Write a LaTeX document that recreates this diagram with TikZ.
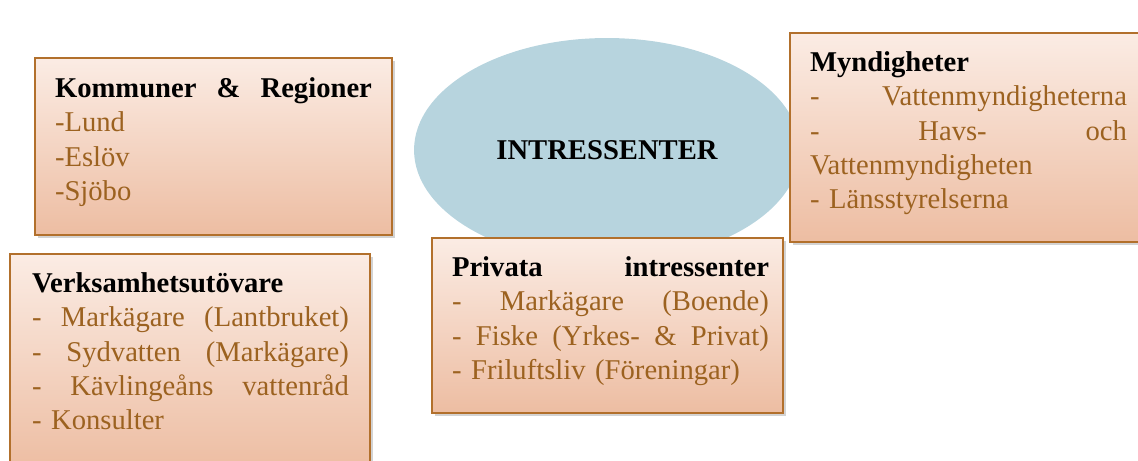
\documentclass[tikz,border=0pt]{standalone}
\usepackage{fontspec}
\setmainfont{Liberation Serif}
\usetikzlibrary{shapes.geometric,shadows,fit}
\definecolor{boxline}{RGB}{178,112,44}
\definecolor{boxtop}{RGB}{251,236,228}
\definecolor{boxbottom}{RGB}{237,189,162}
\definecolor{itembrown}{RGB}{156,98,32}
\definecolor{hubblue}{RGB}{183,212,222}
\newlength{\listwidth}
\setlength{\listwidth}{6.34cm}
\newcommand{\jline}[1]{\leavevmode\hbox to \listwidth{#1}}
\newcommand{\grouphead}[1]{{\color{black}\bfseries #1}}

\begin{document}
\begin{tikzpicture}[x=0.02cm, y=-0.02cm,
                    font=\fontsize{16.3}{19.6}\selectfont,
                    line width=0.9pt]
    \tikzstyle{hub}=[ellipse, fill=hubblue, minimum width=7.72cm, minimum height=4.48cm, font=\fontsize{16.3}{19.6}\selectfont\bfseries]
    \tikzstyle{group}=[rectangle, draw=boxline, top color=boxtop, bottom color=boxbottom, inner sep=0pt, drop shadow={shadow xshift=1.5pt, shadow yshift=-1.5pt, opacity=0.35}]
    \tikzstyle{members}=[text width=\listwidth, align=left, inner sep=0pt, text=itembrown, anchor=base west]

    \useasboundingbox (0,0) rectangle (1138,460);

    \node[hub] (hub) at (607,150) {INTRESSENTER};

    \node[group, fit={(35,58) (392,235)}] (kommuner) {};
    \node[group, fit={(790,33) (1150,242)}] (myndigheter) {};
    \node[group, fit={(10,254) (370,470)}] (verksamhet) {};
    \node[group, fit={(432,238) (783,413)}] (privata) {};

    \node[members] (kommunerlist) at ([shift={(20,40)}]kommuner.north west)
        {\jline{\grouphead{Kommuner\hfill\&\hfill Regioner}}\\
         -Lund\\
         -Eslöv\\
         -Sjöbo};
    \node[members] (myndigheterlist) at ([shift={(20,39)}]myndigheter.north west)
        {\grouphead{Myndigheter}\\
         \jline{-\hfill Vattenmyndigheterna}\\
         \jline{-\hfill Havs-\hfill och}\\
         Vattenmyndigheten\\
         - Länsstyrelserna};
    \node[members] (verksamhetlist) at ([shift={(22,39)}]verksamhet.north west)
        {\grouphead{Verksamhetsutövare}\\
         \jline{-\hfill Markägare\hfill(Lantbruket)}\\
         \jline{-\hfill Sydvatten\hfill(Markägare)}\\
         \jline{-\hfill Kävlingeåns\hfill vattenråd}\\
         - Konsulter};
    \node[members] (privatalist) at ([shift={(20,39)}]privata.north west)
        {\jline{\grouphead{Privata\hfill intressenter}}\\
         \jline{-\hfill Markägare\hfill(Boende)}\\
         \jline{-\hfill Fiske\hfill(Yrkes-\hfill\&\hfill Privat)}\\
         - Friluftsliv (Föreningar)};
\end{tikzpicture}
\end{document}
